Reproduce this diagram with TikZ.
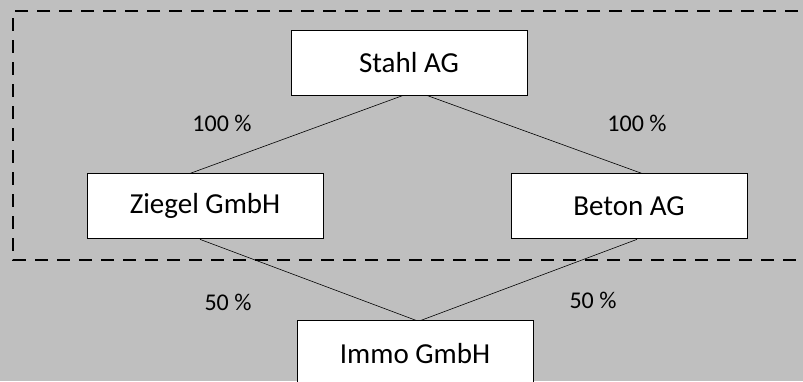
\documentclass[tikz,border=0pt]{standalone}
\usepackage{fontspec}
\setmainfont{Carlito}
\usetikzlibrary{positioning}

\definecolor{hintergrund}{gray}{0.75}

\begin{document}
\begin{tikzpicture}[x=1pt,y=1pt,-,semithick,node distance=78pt]
	\tikzstyle{firma}=[rectangle, draw=black, fill=white, line width=0.9pt, minimum width=236pt, minimum height=65pt, inner sep=0pt, font=\fontsize{29}{34}\selectfont]
	\tikzstyle{anteil}=[font=\fontsize{24}{29}\selectfont, inner sep=0pt]
	\tikzstyle{kreis}=[draw=black, line width=2.4pt, dash pattern=on 13pt off 9pt]
	
	\useasboundingbox (0,0) rectangle (803,-381);
	\fill[hintergrund] (0,0) rectangle (803,-381);
	\draw[kreis] (820,-11) -| (13,-260) -- (820,-260);
	
	\node[firma]         (stahl)  at (409,-62.5)                  {Stahl AG};
	\node[firma]         (ziegel) [below=of stahl, xshift=-204pt] {Ziegel GmbH};
	\node[firma]         (beton)  [below=of stahl, xshift=220pt]  {Beton AG};
	\node[firma]         (immo)   [below=81pt of ziegel, xshift=210pt] {Immo GmbH};
	
	\node[anteil] (a1) at (222,-123) {100 \%};
	\node[anteil] (a2) at (637,-123) {100 \%};
	\node[anteil] (a3) at (228,-302) {50 \%};
	\node[anteil] (a4) at (593,-300) {50 \%};
	
	\draw ([xshift=-6pt]stahl.south) -- ([xshift=-15pt]ziegel.north);
	\draw ([xshift=18pt]stahl.south) -- ([xshift=13pt]beton.north);
	\draw ([xshift=-5pt]ziegel.south) -- ([xshift=1pt]immo.north);
	\draw ([xshift=8pt]beton.south) -- ([xshift=6pt]immo.north);
	
\end{tikzpicture}
\end{document}
